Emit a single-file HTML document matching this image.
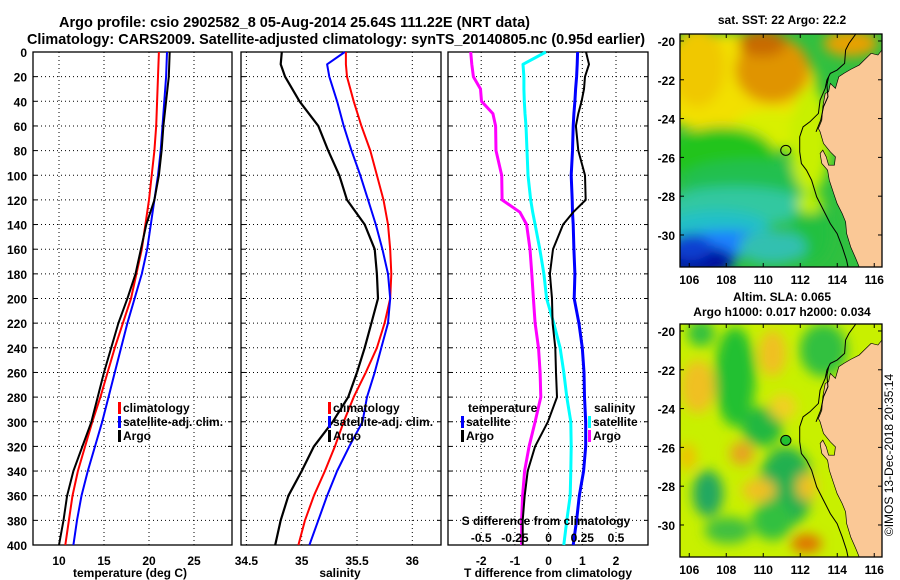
<!DOCTYPE html>
<html><head><meta charset="utf-8"><style>
html,body{margin:0;padding:0;background:#fff;}
svg{display:block;font-family:"Liberation Sans",sans-serif;}
text{font-weight:bold;fill:#000;}
</style></head><body>
<svg id="fig" width="900" height="580" viewBox="0 0 900 580" xmlns="http://www.w3.org/2000/svg">
<defs>
  <filter id="blur" x="-20%" y="-20%" width="140%" height="140%"><feGaussianBlur stdDeviation="18"/></filter>
  <clipPath id="mapclip"><rect x="58" y="102" width="594" height="698"/></clipPath>
</defs>
<text x="59" y="27" font-size="15" textLength="471" lengthAdjust="spacingAndGlyphs">Argo profile: csio 2902582_8 05-Aug-2014 25.64S 111.22E (NRT data)</text>
<text x="27" y="44" font-size="15" textLength="618" lengthAdjust="spacingAndGlyphs">Climatology: CARS2009. Satellite-adjusted climatology: synTS_20140805.nc (0.95d earlier)</text>
<g id="plots"></g>
<g id="maps"></g>
<text transform="translate(893,455) rotate(-90)" font-size="12" text-anchor="middle" style="font-weight:normal">©IMOS 13-Dec-2018 20:35:14</text>
</svg>
<script>
// ---- data ----
const depths = [0,20,40,60,80,100,120,140,160,180,200,220,240,260,280,300,320,340,360,380,400];
const tempClim = [21.1,21.0,20.9,20.8,20.6,20.3,20.0,19.6,19.2,18.6,18.0,17.1,16.2,15.4,14.6,13.7,12.9,12.1,11.5,11.1,10.7];
const tempSat = [22.0,21.9,21.7,21.5,21.3,21.0,20.6,20.2,19.8,19.2,18.4,17.6,16.9,16.2,15.5,14.8,14.0,13.2,12.5,12.0,11.6];
const tempArgo = [22.3,22.2,21.9,21.6,21.4,21.1,20.6,19.7,19.1,18.5,17.6,16.6,15.8,15.0,14.3,13.6,12.6,11.6,10.9,10.5,10.0];
const salDepths = [0,10,20,40,60,80,100,120,140,160,180,200,220,240,260,280,300,320,340,360,380,400];
const salClim = [35.40,35.40,35.41,35.47,35.54,35.62,35.68,35.74,35.78,35.80,35.81,35.80,35.75,35.68,35.58,35.47,35.38,35.30,35.21,35.11,35.03,34.97];
const salSat = [35.39,35.23,35.25,35.32,35.38,35.45,35.53,35.60,35.67,35.73,35.78,35.80,35.78,35.72,35.66,35.59,35.55,35.43,35.32,35.23,35.15,35.07];
const salArgo = [34.82,34.81,34.85,34.98,35.15,35.24,35.34,35.41,35.57,35.66,35.68,35.69,35.63,35.57,35.50,35.42,35.28,35.11,35.00,34.88,34.81,34.76];
const diffDepths = [0,10,20,30,40,50,60,80,100,120,130,140,160,180,200,220,240,260,280,300,320,340,360,380,400];
const tDiffSat = [0.86,0.85,0.83,0.80,0.78,0.75,0.73,0.71,0.67,0.70,0.71,0.73,0.75,0.78,0.76,0.90,1.00,1.05,1.065,1.10,1.10,1.04,0.91,0.83,0.73];
const tDiffArgo = [1.11,1.20,1.08,1.05,0.98,0.88,0.81,0.88,1.08,1.10,0.73,0.43,0.13,0.04,0.10,0.12,0.20,0.22,0.25,-0.02,-0.40,-0.62,-0.71,-0.77,-0.77];
const sDiffSat = [-0.02,-0.19,-0.183,-0.183,-0.18,-0.175,-0.168,-0.16,-0.153,-0.133,-0.118,-0.10,-0.065,-0.035,-0.015,0.038,0.085,0.113,0.135,0.165,0.168,0.165,0.16,0.135,0.113];
const sDiffArgo = [-0.578,-0.57,-0.558,-0.505,-0.498,-0.413,-0.393,-0.39,-0.348,-0.345,-0.213,-0.163,-0.138,-0.125,-0.113,-0.10,-0.075,-0.063,-0.058,-0.10,-0.145,-0.178,-0.193,-0.20,-0.20];
const depthTicks = [0,20,40,60,80,100,120,140,160,180,200,220,240,260,280,300,320,340,360,380,400];
const tempTicks = [10,15,20,25];
const salTicks = [34.5,35,35.5,36];
const tDiffTicks = [-2,-1,0,1,2];
const sDiffTicks = [-0.5,-0.25,0,0.25,0.5];
const lonTicks = [106,108,110,112,114,116];
const latTicks = [-20,-22,-24,-26,-28,-30];
const argoLon = 111.22, argoLat = -25.64;

// ---- axes ----
const NS = "http://www.w3.org/2000/svg";
const yD = d => 52 + d * 1.2325;
const xT = t => 59 + (t - 10) * 9;
const xS = s => 301.7 + (s - 35) * 110.6;
const xDT = v => 548.6 + v * 33.7;
const xDS = s => xDT(s * 4);
const Y0 = yD(0), Y1 = yD(400);
const plots = document.getElementById('plots');
function mk(tag, attrs, parent) {
  const e = document.createElementNS(NS, tag);
  for (const k in attrs) e.setAttribute(k, attrs[k]);
  (parent || plots).appendChild(e);
  return e;
}
function txt(x, y, s, size, anchor, parent) {
  const e = mk('text', {x: x, y: y, 'font-size': size, 'text-anchor': anchor || 'start'}, parent);
  e.textContent = s;
  return e;
}
function panel(name, x0, x1, xTicks, xf, labels) {
  const g = mk('g', {});
  
  
  depthTicks.slice(1, -1).forEach(d => {
    const l = mk('line', {x1: x0, x2: x1, y1: yD(d), y2: yD(d), stroke: '#000', 'stroke-width': 1, 'stroke-dasharray': '1,3'}, g);
    
    
    mk('line', {x1: x0, x2: x0 + 4, y1: yD(d), y2: yD(d), stroke: '#000'}, g);
    mk('line', {x1: x1, x2: x1 - 4, y1: yD(d), y2: yD(d), stroke: '#000'}, g);
  });
  xTicks.forEach((t, i) => {
    const x = xf(t);
    if (x > x0 + 2 && x < x1 - 2) {
      const l = mk('line', {x1: x, x2: x, y1: Y0, y2: Y1, stroke: '#000', 'stroke-width': 1, 'stroke-dasharray': '1,3'}, g);
      
      
    }
    if (labels) {
      const tl = txt(x, 565, labels[i], 12, 'middle', g);
      
      
    }
  });
  const r = mk('rect', {x: x0, y: Y0, width: x1 - x0, height: Y1 - Y0, fill: 'none', stroke: '#000', 'stroke-width': 1.3}, g);
  
  
  return g;
}
function series(g, name, ds, vals, xf, color, w) {
  const pts = vals.map((v, i) => xf(v).toFixed(1) + ',' + yD(ds[i]).toFixed(1)).join(' ');
  const p = mk('polyline', {points: pts, fill: 'none', stroke: color, 'stroke-width': w, 'stroke-linejoin': 'round'}, g);
  
  
}
function legendEntry(g, x, y, color, label) {
  const b = mk('rect', {x: x, y: y - 10, width: 3, height: 12, fill: color}, g);
  
  
  const t = txt(x + 5, y, label, 12, 'start', g);
  
  
}

// panel 1
const p1 = panel('temperature-panel', 33, 232, tempTicks, xT, tempTicks.map(String));
series(p1, 'temp-climatology-line', depths, tempClim, xT, '#ff0000', 2);
series(p1, 'temp-satellite-line', depths, tempSat, xT, '#0000ff', 2);
series(p1, 'temp-argo-line', depths, tempArgo, xT, '#000000', 2);
depthTicks.forEach(d => {
  const t = txt(27, yD(d) + 5, String(d), 12, 'end', p1);
  
  
});
legendEntry(p1, 118, 412, '#ff0000', 'climatology');
legendEntry(p1, 118, 426, '#0000ff', 'satellite-adj. clim.');
legendEntry(p1, 118, 440, '#000000', 'Argo');
const xt1 = txt(130, 577, 'temperature (deg C)', 12, 'middle', p1);



// panel 2
const p2 = panel('salinity-panel', 241, 441, salTicks, xS, salTicks.map(String));
series(p2, 'sal-climatology-line', salDepths, salClim, xS, '#ff0000', 2);
series(p2, 'sal-satellite-line', salDepths, salSat, xS, '#0000ff', 2);
series(p2, 'sal-argo-line', salDepths, salArgo, xS, '#000000', 2.2);
legendEntry(p2, 328, 412, '#ff0000', 'climatology');
legendEntry(p2, 328, 426, '#0000ff', 'satellite-adj. clim.');
legendEntry(p2, 328, 440, '#000000', 'Argo');
const xt2 = txt(340, 577, 'salinity', 12, 'middle', p2);



// panel 3
const p3 = panel('difference-panel', 448, 648, tDiffTicks, xDT, tDiffTicks.map(String));
series(p3, 'sdiff-argo-line', diffDepths, sDiffArgo, xDS, '#ff00ff', 3);
series(p3, 'sdiff-satellite-line', diffDepths, sDiffSat, xDS, '#00ffff', 3);
series(p3, 'tdiff-satellite-line', diffDepths, tDiffSat, xDT, '#0000ff', 3);
series(p3, 'tdiff-argo-line', diffDepths, tDiffArgo, xDT, '#000000', 2);
const lt = txt(468, 412, 'temperature', 12, 'start', p3);


legendEntry(p3, 461, 426, '#0000ff', 'satellite');
legendEntry(p3, 461, 440, '#000000', 'Argo');
const ls = txt(594, 412, 'salinity', 12, 'start', p3);


legendEntry(p3, 588, 426, '#00ffff', 'satellite');
legendEntry(p3, 588, 440, '#ff00ff', 'Argo');
const st = txt(546, 525, 'S difference from climatology', 12, 'middle', p3);


sDiffTicks.forEach(s => {
  const t = txt(xDS(s), 542, String(s), 12, 'middle', p3);
  
  
});
const xt3 = txt(548, 577, 'T difference from climatology', 12, 'middle', p3);



// ---- maps ----
const maps = document.getElementById('maps');
const landPath = "M652,150 L640,165 L620,160 L600,180 L585,195 L560,208 L540,220 L525,230 L515,265 L500,250 L495,275 L485,280 L478,320 L475,360 L465,385 L470,395 L480,430 L500,455 L515,470 L512,495 L495,495 L488,470 L478,450 L470,460 L475,490 L492,510 L497,540 L510,580 L520,610 L535,640 L545,665 L548,700 L560,740 L575,775 L585,800 L652,800 Z";
const contour1 = "M575,102 L555,130 L545,150 L542,190 L520,210 L500,220 L490,240 L485,265 L470,300 L465,340 L440,365 L420,380 L410,410 L410,455 L415,490 L430,510 L445,540 L460,590 L480,630 L500,670 L520,700 L535,740 L548,780 L552,800";
const contour2 = "M495,230 L490,255 L493,290 L480,320 L472,360 L458,395";
const topBlobs = [
  ['#f2e000',200,250,260,150], ['#f0c800',110,200,80,120], ['#e09400',330,210,110,100], ['#c86a00',300,130,70,40],
  ['#e8a000',560,130,80,40], ['#d8f000',330,390,120,60], ['#22c41e',180,470,160,90], ['#20c050',260,540,200,60],
  ['#c8f000',440,420,60,160], ['#30c8a0',220,620,220,60], ['#20c0c8',170,680,150,50], ['#1e80ff',200,730,150,40],
  ['#0010a0',110,780,110,45], ['#20c040',440,700,60,90], ['#c0f000',440,610,40,30], ['#30c0b0',330,740,100,50],
  ['#1040d0',90,740,60,40]
];
const botBlobs = [
  ['#22c030',220,260,60,150], ['#30c040',480,180,70,80], ['#22b840',300,410,60,60], ['#20b050',370,590,80,120],
  ['#20a860',140,610,45,70], ['#f0c020',110,290,50,80], ['#f0c020',330,190,40,70], ['#e8a020',240,490,35,35],
  ['#f0c020',290,600,50,35], ['#e07000',430,760,45,28], ['#f0c000',80,500,25,40], ['#40c040',200,720,70,40],
  ['#f0d020',360,350,40,40], ['#f0c020',430,590,30,40], ['#30c040',120,130,40,40], ['#30c040',330,690,60,60]
];
function makeMap(name, ox, oy, bg, blobs, circleFill) {
  const s = mk('svg', {x: ox, y: oy, width: 202, height: 233, viewBox: '58 102 594 698', preserveAspectRatio: 'none'}, maps);
  
  
  const g = mk('g', {'clip-path': 'url(#mapclip)'}, s);
  mk('rect', {x: 58, y: 102, width: 594, height: 698, fill: bg}, g);
  const bg2 = mk('g', {filter: 'url(#blur)'}, g);
  blobs.forEach(b => {
    const e = mk('ellipse', {cx: b[1], cy: b[2], rx: b[3], ry: b[4], fill: b[0]}, bg2);
    
    
  });
  const land = mk('path', {d: landPath, fill: '#fac896'}, g);
  
  
  const c1 = mk('path', {d: contour1, fill: 'none', stroke: '#000', 'stroke-width': 3}, g);
  
  
  mk('path', {d: contour2, fill: 'none', stroke: '#000', 'stroke-width': 3}, g);
  mk('path', {d: landPath, fill: 'none', stroke: '#000', 'stroke-width': 2}, g);
  const cx = 58 + (argoLon - 105.5) * 54.4, cy = 102 + (argoLat + 19.64) * -58.1;
  const c = mk('ellipse', {cx: cx, cy: cy, rx: 15, ry: 15, fill: circleFill, stroke: '#000', 'stroke-width': 3}, g);
  
  
  const fr = mk('rect', {x: ox, y: oy, width: 202, height: 233, fill: 'none', stroke: '#000', 'stroke-width': 1.3}, maps);
  
  
  const lonX = l => ox + (l - 105.5) * 18.5;
  const latY = l => oy + (-19.64 - l) * 19.4;
  lonTicks.forEach(l => {
    mk('line', {x1: lonX(l), x2: lonX(l), y1: oy, y2: oy + 4, stroke: '#000'}, maps);
    mk('line', {x1: lonX(l), x2: lonX(l), y1: oy + 233, y2: oy + 229, stroke: '#000'}, maps);
    const t = txt(lonX(l), oy + 250, String(l), 12, 'middle', maps);
    
    
  });
  latTicks.forEach(l => {
    mk('line', {x1: ox, x2: ox + 4, y1: latY(l), y2: latY(l), stroke: '#000'}, maps);
    mk('line', {x1: ox + 202, x2: ox + 198, y1: latY(l), y2: latY(l), stroke: '#000'}, maps);
    const t = txt(ox - 5, latY(l) + 5, String(l), 12, 'end', maps);
    
    
  });
}
makeMap('sst-map', 680, 34, '#30c040', topBlobs, 'none');
makeMap('sla-map', 680, 324, '#c8f000', botBlobs, '#22c030');
const m1 = txt(782, 24, 'sat. SST: 22 Argo: 22.2', 12, 'middle', maps);


const m2 = txt(782, 301, 'Altim. SLA: 0.065', 12, 'middle', maps);


const m3 = txt(782, 316, 'Argo h1000: 0.017 h2000: 0.034', 12, 'middle', maps);


</script>
</body></html>
